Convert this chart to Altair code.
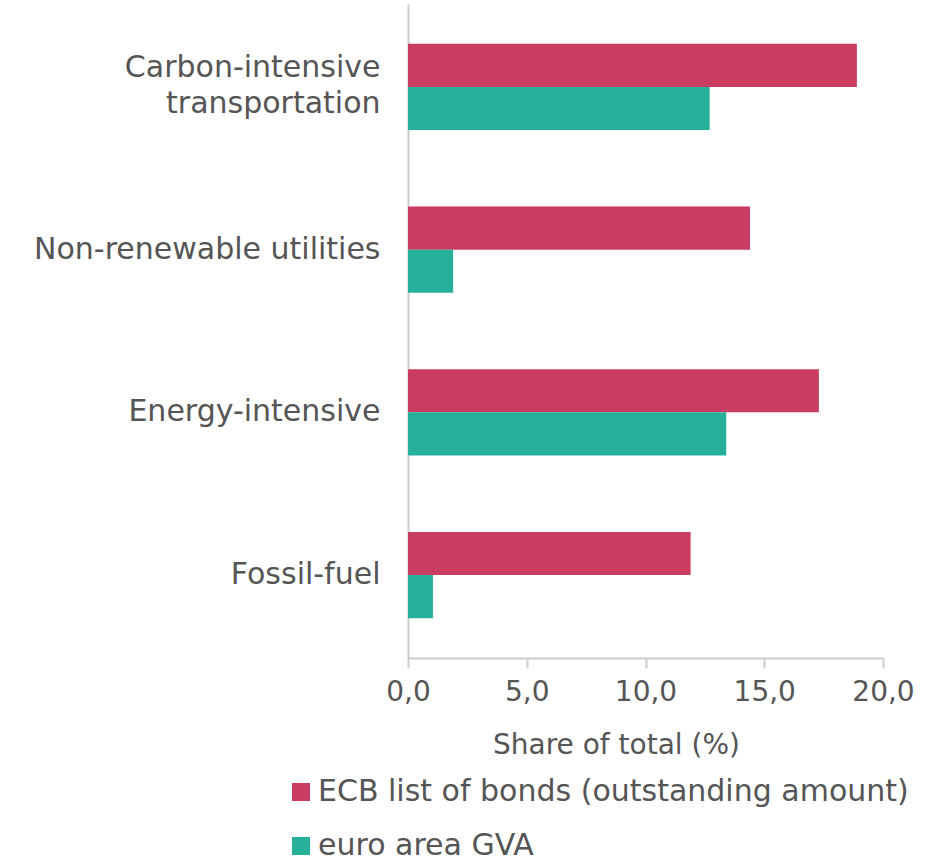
import altair as alt
import pandas as pd

categories = ["Carbon-intensive transportation", "Non-renewable utilities", "Energy-intensive", "Fossil-fuel"]
series = ["ECB list of bonds (outstanding amount)", "euro area GVA"]
ecb_values = [18.9, 14.4, 17.3, 11.9]
gva_values = [12.7, 1.9, 13.4, 1.05]
x_ticks = [0, 5, 10, 15, 20]
colors = ["#C93D63", "#26B09A"]

rows = []
for c, a, b in zip(categories, ecb_values, gva_values):
    rows.append({"category": c, "series": series[0], "value": a})
    rows.append({"category": c, "series": series[1], "value": b})
df = pd.DataFrame(rows)

FONT = "DejaVu Sans"
TXT = "#555555"

chart = alt.Chart(df).mark_bar().encode(
    y=alt.Y("category:N", sort=categories,
            scale=alt.Scale(paddingInner=0.47, paddingOuter=0.245),
            axis=alt.Axis(title=None, ticks=False, domainColor="#cccccc", domainWidth=2,
                          labelFontSize=30, labelColor=TXT, labelFont=FONT, labelPadding=28,
                          labelLineHeight=36, labelLimit=400,
                          labelOffset={"condition": {"test": "datum.value == 'Carbon-intensive transportation'", "value": -19}, "value": 0},
                          labelExpr="datum.label == 'Carbon-intensive transportation' ? ['Carbon-intensive', 'transportation'] : datum.label")),
    yOffset=alt.YOffset("series:N", sort=series),
    x=alt.X("value:Q", scale=alt.Scale(domain=[0, 20], nice=False),
            axis=alt.Axis(values=x_ticks, title="Share of total (%)", grid=False,
                          domainColor="#cccccc", domainWidth=2, tickColor="#cccccc", tickWidth=2, tickSize=10,
                          labelFontSize=28, labelColor=TXT, labelFont=FONT, labelPadding=10,
                          labelFlush=False,
                          labelExpr="replace(format(datum.value, '.1f'), '.', ',')",
                          titleFontSize=28, titleColor=TXT, titleFont=FONT, titleFontWeight="normal",
                          titleX=208, titleY=87, titleBaseline="middle", titleAlign="center")),
    color=alt.Color("series:N", sort=series, scale=alt.Scale(domain=series, range=colors),
                    legend=alt.Legend(title=None, orient="none", legendX=-122, legendY=773,
                                      symbolType="square", symbolSize=324, symbolStrokeWidth=0,
                                      labelFontSize=30, labelColor=TXT, labelFont=FONT,
                                      labelOffset=2, rowPadding=24, labelLimit=700)),
).properties(
    width=475, height=654,
    autosize=alt.AutoSizeParams(type="none"),
    padding={"left": 408, "top": 4, "right": 55, "bottom": 204},
    background="white",
).configure_view(stroke=None)

chart.save("out.html", embed_options={"renderer": "svg", "actions": False})
